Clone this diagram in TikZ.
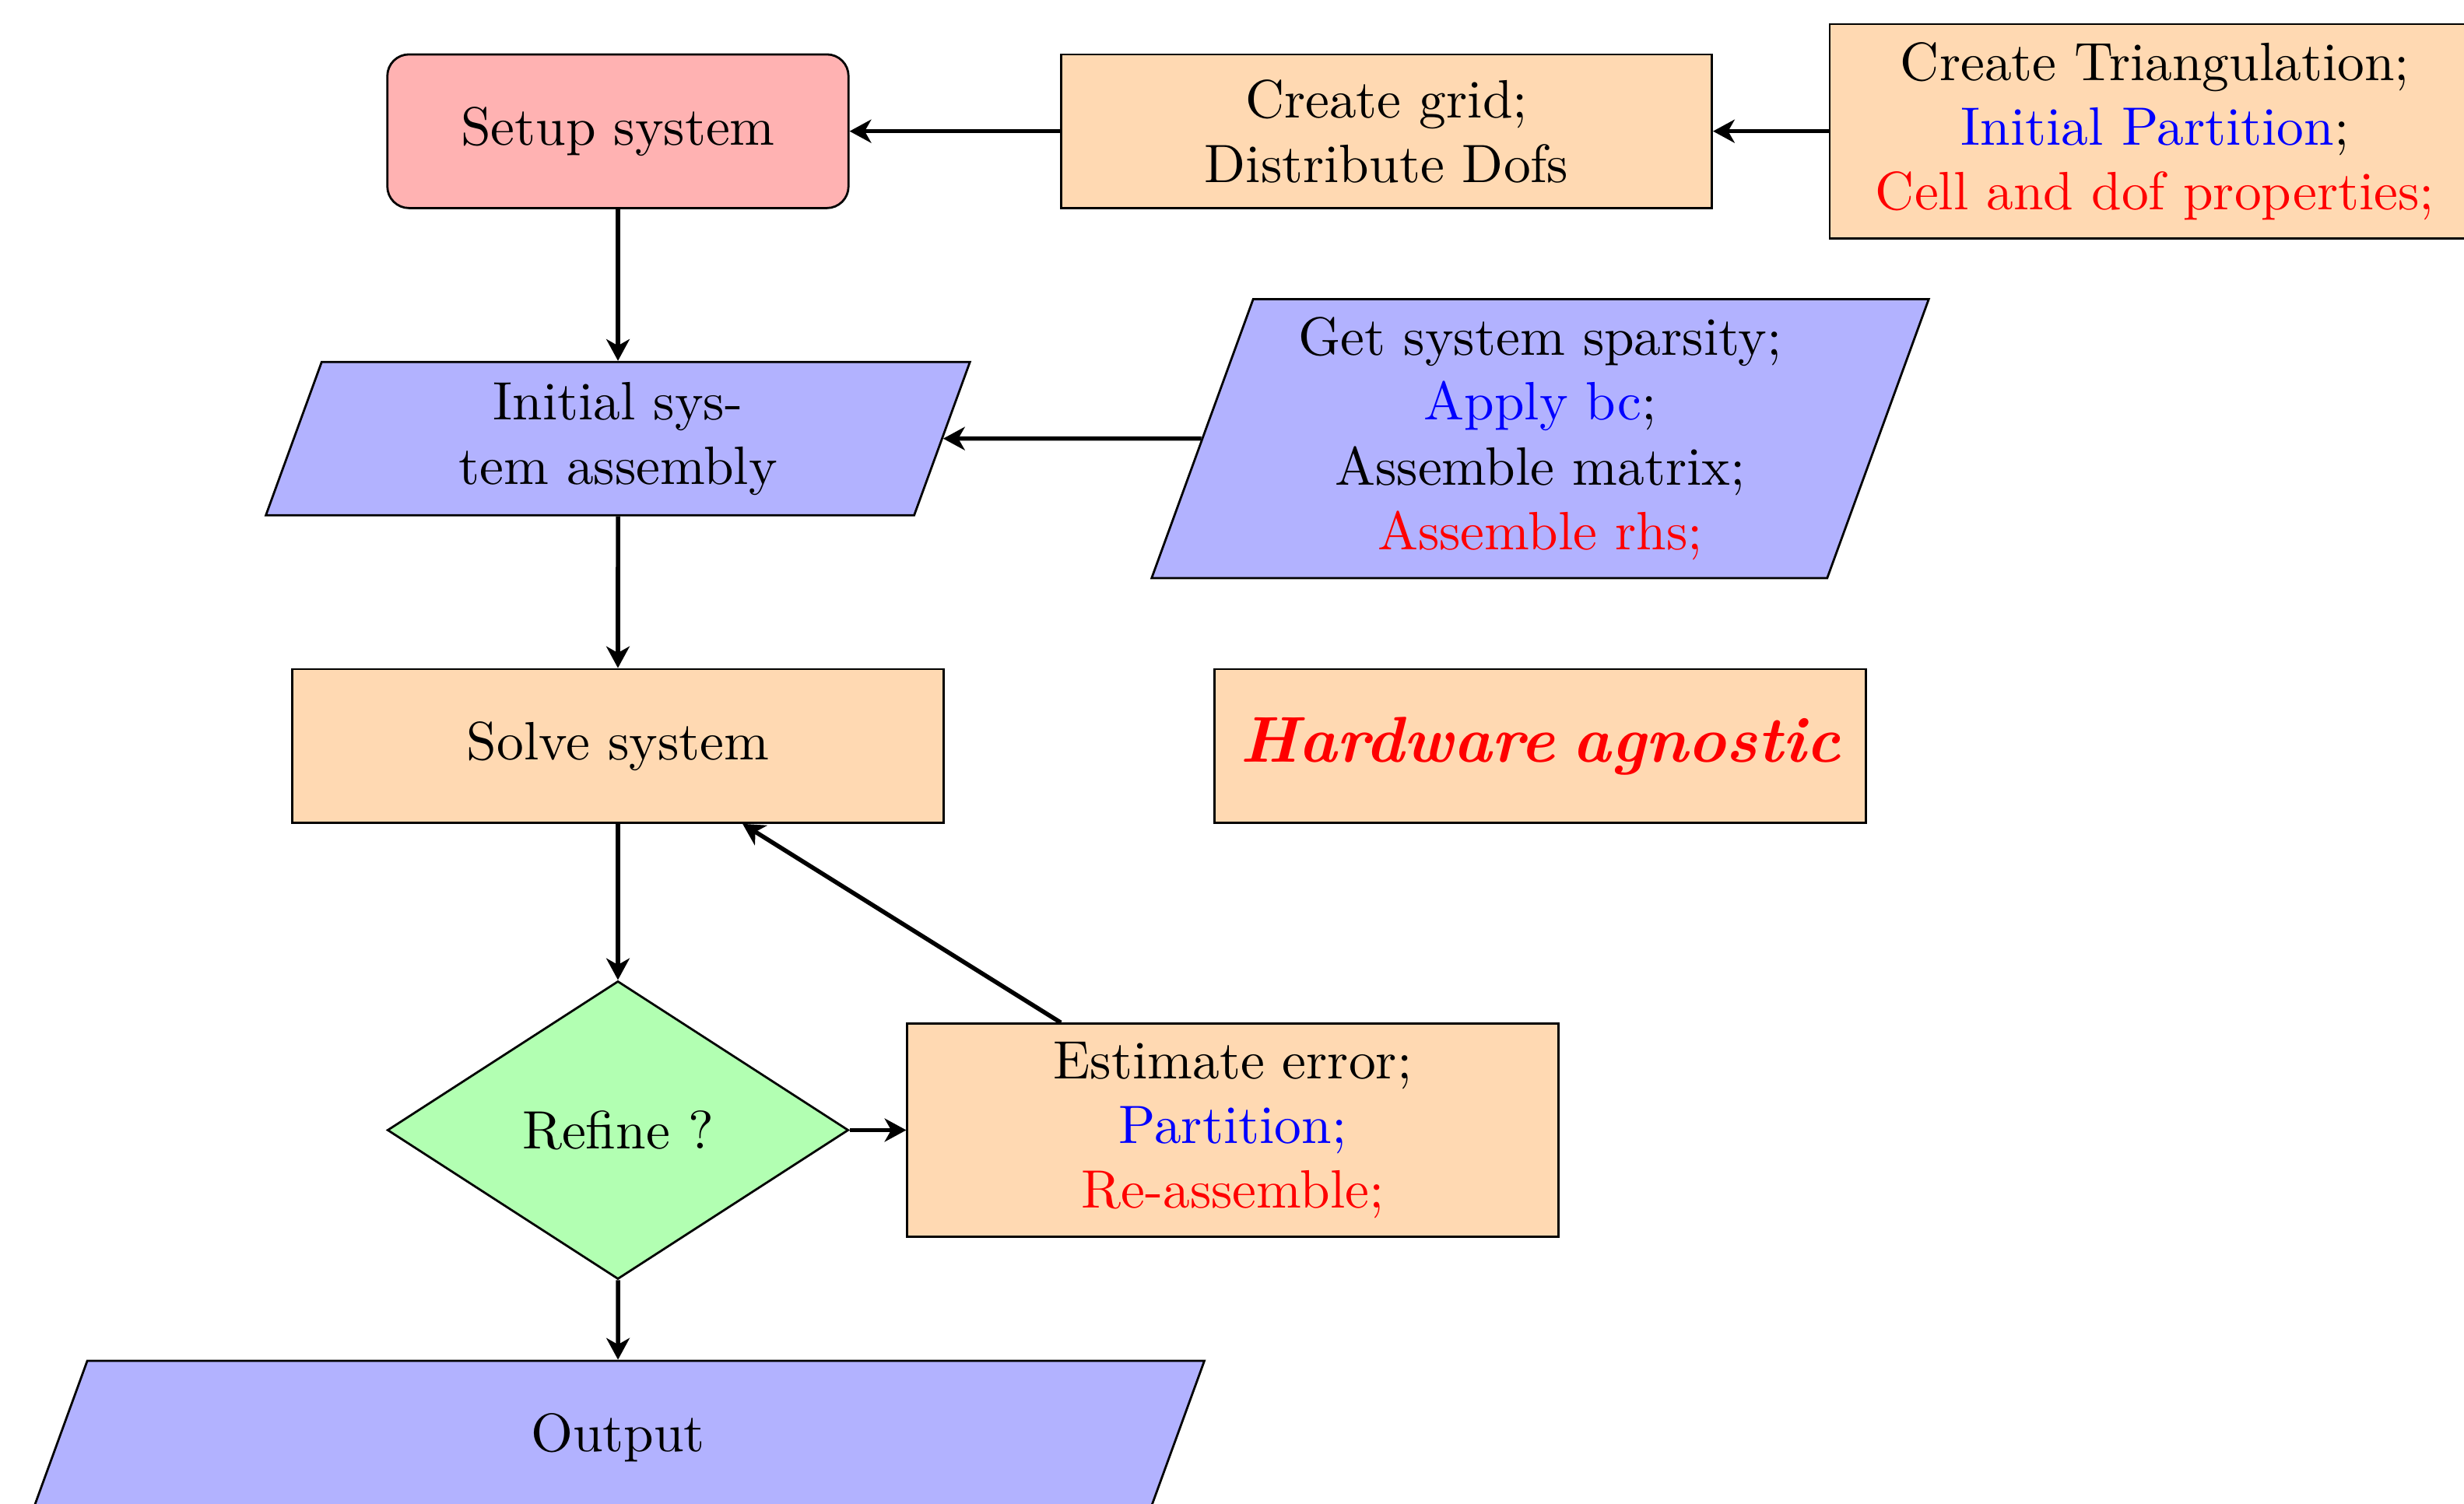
\documentclass[tikz,border=0pt]{standalone}
\usepackage{tikz}
\usetikzlibrary{shapes.geometric,arrows.meta}

\begin{document}
\begin{tikzpicture}[
  startbox/.style={rectangle, rounded corners, draw, fill=red!30, minimum width=3cm, minimum height=1cm},
  procbox/.style={rectangle, draw, fill=orange!30, text width=4cm, align=center, minimum height=1cm},
  iobox/.style={trapezium, trapezium left angle=70, trapezium right angle=110, draw, fill=blue!30, align=center},
  decbox/.style={diamond, draw, fill=green!30, minimum width=3cm, minimum height=1.94cm, inner sep=0pt},
  conn/.style={thick, -{Stealth[length=4pt,width=4.3pt,inset=1.2pt]}}
]

\useasboundingbox (-4.02,-8.93) rectangle (12.01,0.854) ;

\node[startbox] (setup) at (0,0) {Setup system} ;
\node[procbox] (grid) at (5,0) {Create grid;\\ Distribute Dofs} ;
\node[procbox] (tria) at (10,0) {Create Triangulation;\\ \textcolor{blue}{Initial Partition};\\ \textcolor{red}{Cell and dof properties;}} ;

\node[iobox, text width=3.62cm, inner ysep=3.7pt] (init) at (0,-2) {Initial sys-\\tem assembly} ;
\node[iobox, text width=3.5cm] (sparsity) at (6,-2) {Get system sparsity;\\ \textcolor{blue}{Apply bc};\\ Assemble matrix;\\ \textcolor{red}{Assemble rhs;}} ;

\node[procbox] (solve) at (0,-4) {Solve system} ;
\node[procbox] (hw) at (6,-4) {\large\bfseries\itshape\color{red} Hardware agnostic} ;

\node[decbox] (refine) at (0,-6.5) {Refine ?} ;
\node[procbox] (estimate) at (4,-6.5) {Estimate error;\\ \textcolor{blue}{Partition;}\\ \textcolor{red}{Re-assemble;}} ;

\node[iobox, text width=6.67cm, inner ysep=9.7pt] (output) at (0,-8.5) {Output} ;

% top row
\draw[conn] (tria) -- (grid) ;
\draw[conn] (grid) -- (setup) ;

% main column
\draw[conn] (setup) -- (init) ;
\draw[conn] (sparsity) -- (init) ;
\draw[conn] (init) -- (solve) ;
\draw[conn] (solve) -- (refine) ;
\draw[conn] (refine) -- (estimate) ;
\draw[conn] (estimate) -- (solve) ;
\draw[conn] (refine) -- (output) ;

\end{tikzpicture}
\end{document}
